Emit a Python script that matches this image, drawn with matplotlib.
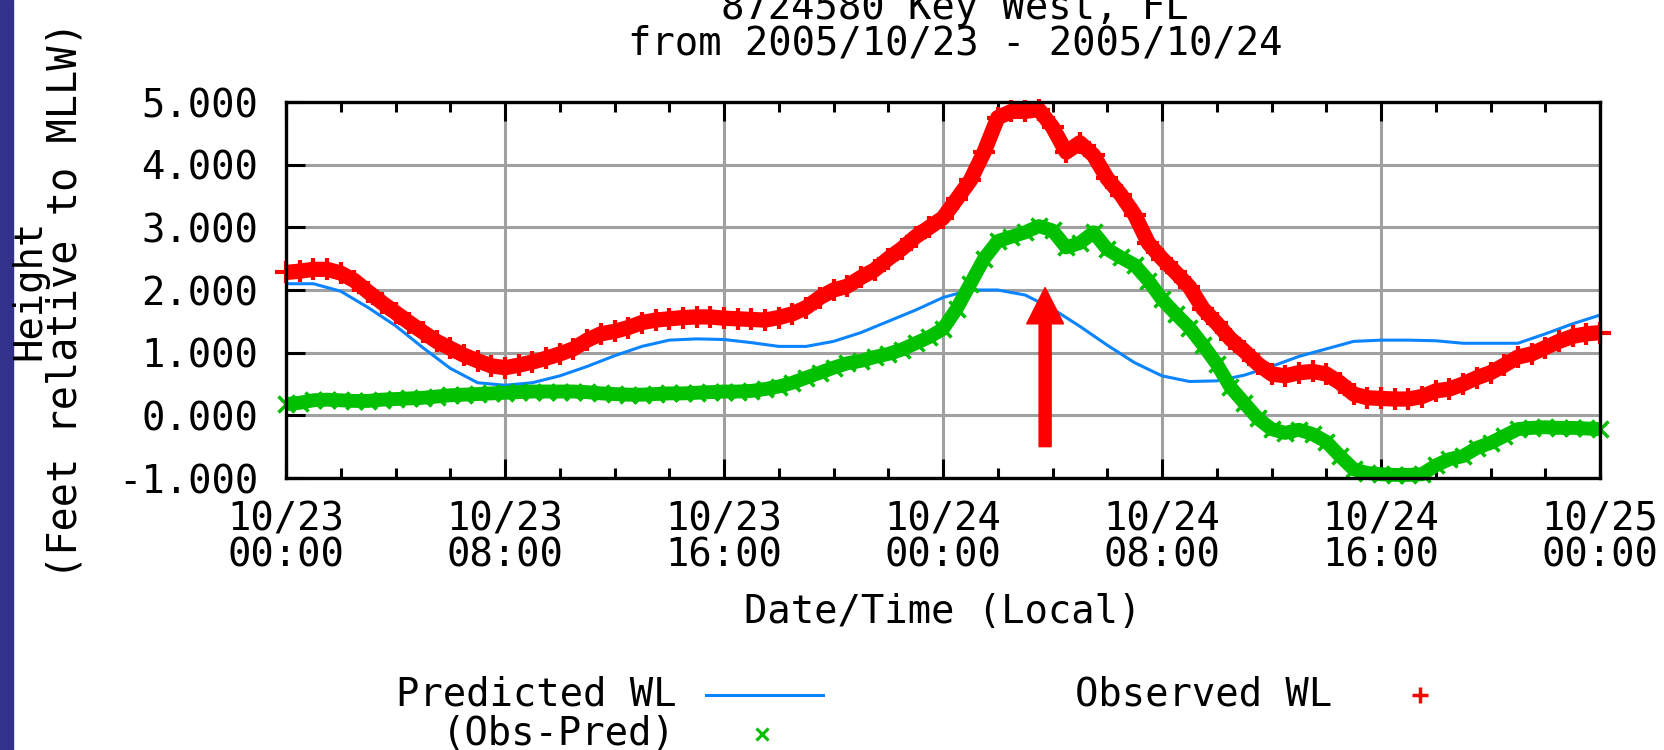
import matplotlib
matplotlib.use('Agg')
import matplotlib.pyplot as plt
from matplotlib.patches import FancyArrow, Rectangle
import numpy as np

plt.rcParams['font.family'] = ['DejaVu Sans Mono']

# hours since 2005/10/23 00:00 local
pred_hours = np.arange(0, 49)
pred_wl = [2.10, 2.10, 1.98, 1.72, 1.43, 1.08, 0.75, 0.52, 0.48, 0.52,
           0.63, 0.78, 0.95, 1.10, 1.20, 1.22, 1.21, 1.16, 1.10, 1.10,
           1.18, 1.32, 1.50, 1.68, 1.88, 2.00, 2.00, 1.92, 1.70, 1.42,
           1.12, 0.84, 0.63, 0.54, 0.55, 0.64, 0.78, 0.94, 1.06, 1.18,
           1.20, 1.20, 1.19, 1.15, 1.15, 1.15, 1.30, 1.46, 1.60]

# observed and obs-pred read every half hour
obs_hours = np.arange(0, 48.5, 0.5)
obs_wl = [2.28, 2.30, 2.33, 2.33, 2.27, 2.15, 1.97, 1.80, 1.64, 1.48,
          1.33, 1.18, 1.07, 0.96, 0.87, 0.79, 0.76, 0.80, 0.85, 0.91,
          0.98, 1.06, 1.20, 1.30, 1.34, 1.40, 1.48, 1.52, 1.54, 1.56,
          1.57, 1.57, 1.55, 1.54, 1.53, 1.52, 1.56, 1.62, 1.72, 1.88,
          2.00, 2.06, 2.20, 2.32, 2.50, 2.66, 2.85, 3.00, 3.15, 3.45,
          3.75, 4.20, 4.75, 4.85, 4.85, 4.88, 4.60, 4.20, 4.35, 4.15,
          3.78, 3.52, 3.20, 2.75, 2.50, 2.28, 2.05, 1.70, 1.47, 1.22,
          1.03, 0.82, 0.66, 0.63, 0.68, 0.70, 0.66, 0.52, 0.34, 0.28,
          0.27, 0.26, 0.26, 0.30, 0.39, 0.42, 0.50, 0.60, 0.68, 0.80,
          0.93, 0.98, 1.08, 1.18, 1.26, 1.30, 1.32]
obs_minus_pred = [0.18, 0.20, 0.24, 0.25, 0.24, 0.23, 0.23, 0.25, 0.26, 0.27,
                  0.28, 0.30, 0.32, 0.33, 0.34, 0.35, 0.36, 0.37, 0.38, 0.38,
                  0.38, 0.38, 0.37, 0.35, 0.34, 0.33, 0.33, 0.34, 0.35, 0.35,
                  0.36, 0.37, 0.38, 0.38, 0.39, 0.42, 0.46, 0.52, 0.60, 0.68,
                  0.76, 0.83, 0.87, 0.93, 0.98, 1.05, 1.15, 1.25, 1.38, 1.70,
                  2.10, 2.50, 2.78, 2.85, 2.92, 3.02, 2.95, 2.68, 2.75, 2.92,
                  2.65, 2.52, 2.40, 2.15, 1.85, 1.62, 1.40, 1.12, 0.82, 0.45,
                  0.20, -0.05, -0.22, -0.28, -0.23, -0.30, -0.42, -0.65, -0.86, -0.92,
                  -0.94, -0.95, -0.95, -0.94, -0.80, -0.70, -0.65, -0.52, -0.44, -0.33,
                  -0.22, -0.20, -0.19, -0.20, -0.20, -0.21, -0.22]

x_ticks = [0, 8, 16, 24, 32, 40, 48]
x_labels = ['10/23\n00:00', '10/23\n08:00', '10/23\n16:00', '10/24\n00:00',
            '10/24\n08:00', '10/24\n16:00', '10/25\n00:00']
y_ticks = [-1, 0, 1, 2, 3, 4, 5]

# arrow marking the surge peak
arrow_hour = 27.73
arrow_from, arrow_to = -0.5, 2.04

blue = '#0a84ff'
red = '#ff0000'
green = '#00c000'
fs = 28

fig = plt.figure(figsize=(16.64, 7.5), dpi=100)
fig.add_artist(Rectangle((0, 0), 13 / 1664, 1, transform=fig.transFigure,
                         color='#32328c', zorder=0))

ax = fig.add_axes([286 / 1664, 1 - 478 / 750, 1314 / 1664, 376 / 750])
ax.set_xlim(0, 48)
ax.set_ylim(-1, 5)

ax.plot(pred_hours, pred_wl, color=blue, lw=2.2, zorder=3)
ax.plot(obs_hours, obs_wl, color=red, lw=11, zorder=4, clip_on=False,
        solid_capstyle='butt')
ax.plot(obs_hours, obs_wl, '+', color=red, ms=16, mew=3, zorder=4, clip_on=False)
ax.plot(obs_hours, obs_minus_pred, color=green, lw=10, zorder=5, clip_on=False,
        solid_capstyle='butt')
ax.plot(obs_hours, obs_minus_pred, 'x', color=green, ms=12, mew=2.5, zorder=5,
        clip_on=False)

ax.add_patch(FancyArrow(arrow_hour, arrow_from, 0, arrow_to - arrow_from,
                        width=0.44, head_width=1.35, head_length=0.58,
                        length_includes_head=True, color=red, zorder=6))

ax.set_xticks(x_ticks)
ax.set_xticklabels(x_labels, fontsize=fs, linespacing=0.95)
ax.set_xticks(np.arange(0, 49, 2), minor=True)
ax.set_yticks(y_ticks)
ax.set_yticklabels(['%.3f' % v for v in y_ticks], fontsize=fs)

ax.grid(True, which='major', color='#a0a0a0', lw=2.2)
ax.set_axisbelow(True)
ax.tick_params(axis='x', which='major', direction='in', length=14, width=2.2,
               top=True, pad=16)
ax.tick_params(axis='x', which='minor', direction='in', length=7, width=2.2, top=True)
ax.tick_params(axis='y', which='major', direction='in', length=14, width=2.2,
               right=False, pad=20)
for s in ax.spines.values():
    s.set_linewidth(2.4)
    s.set_zorder(7)

# titles and axis labels
fig.text(955 / 1664, 1 - 8 / 750, '8724580 Key West, FL', fontsize=fs,
         ha='center', va='center')
fig.text(955 / 1664, 1 - 43 / 750, 'from 2005/10/23 - 2005/10/24', fontsize=fs,
         ha='center', va='center')
fig.text(943 / 1664, 1 - 612 / 750, 'Date/Time (Local)', fontsize=fs,
         ha='center', va='center')
fig.text(29 / 1664, 1 - 290 / 750, 'Height', fontsize=fs, rotation=90,
         ha='center', va='center')
fig.text(66 / 1664, 1 - 300 / 750, '(Feet relative to MLLW)', fontsize=29,
         rotation=90, ha='center', va='center')

# legend laid out like the gnuplot key
lax = fig.add_axes([0, 0, 1, 1])
lax.set_xlim(0, 1664)
lax.set_ylim(750, 0)
lax.axis('off')
lax.text(676, 695, 'Predicted WL', fontsize=fs, ha='right', va='center')
lax.plot([706, 823], [695, 695], color=blue, lw=2.2)
lax.text(1332, 695, 'Observed WL', fontsize=fs, ha='right', va='center')
lax.plot([1420], [695], '+', color=red, ms=11, mew=2.5)
lax.text(676, 734, '(Obs-Pred)', fontsize=fs, ha='right', va='center')
lax.plot([762], [734], 'x', color=green, ms=9, mew=2.2)

fig.savefig('out.png', dpi=100)
